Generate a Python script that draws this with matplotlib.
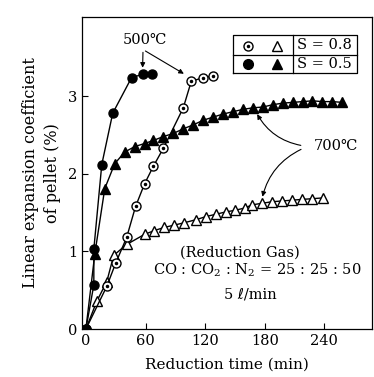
import matplotlib
matplotlib.use("Agg")
import matplotlib.pyplot as plt
from matplotlib.patches import FancyArrowPatch

plt.rcParams['font.family'] = ['DejaVu Serif', 'DejaVu Sans']
plt.rcParams['mathtext.fontset'] = 'dejavuserif'

# S=0.5, 500C (filled circles)
t_c05 = [0, 8, 8, 16, 27, 46, 57, 67]
v_c05 = [0, 0.57, 1.03, 2.12, 2.78, 3.24, 3.28, 3.29]

# S=0.8, 500C (open circles)
t_c08 = [0, 21, 30, 41, 50, 59, 68, 78, 98, 106, 118, 128]
v_c08 = [0, 0.55, 0.85, 1.18, 1.58, 1.87, 2.10, 2.33, 2.85, 3.19, 3.24, 3.26]

# S=0.5, 700C (filled triangles)
t_t05 = [0, 9, 19, 29, 39, 49, 59, 68, 78, 88, 98, 108, 118, 128, 138,
         148, 158, 168, 178, 188, 198, 208, 218, 228, 238, 248, 258]
v_t05 = [0, 0.97, 1.81, 2.13, 2.28, 2.35, 2.39, 2.43, 2.48, 2.52, 2.58, 2.63,
         2.69, 2.73, 2.77, 2.80, 2.83, 2.85, 2.86, 2.89, 2.91, 2.92, 2.93,
         2.94, 2.93, 2.93, 2.92]

# S=0.8, 700C (open triangles)
t_t08 = [0, 11, 21, 28, 41, 59, 69, 79, 89, 99, 111, 121, 131, 141, 150,
         160, 167, 177, 187, 197, 207, 217, 228, 239]
v_t08 = [0, 0.36, 0.61, 0.95, 1.09, 1.22, 1.27, 1.31, 1.34, 1.37, 1.41, 1.45,
         1.48, 1.51, 1.53, 1.56, 1.60, 1.62, 1.64, 1.65, 1.66, 1.67, 1.68, 1.69]

fig = plt.figure(figsize=(3.74, 3.77), dpi=100)
ax = fig.add_axes([0.219, 0.127, 0.776, 0.828])

lk = dict(color='black', lw=1.0)
ax.plot(t_t08, v_t08, marker='^', ms=7.5, mfc='white', mec='black', mew=1.0, **lk)
ax.plot(t_t05, v_t05, marker='^', ms=7.5, mfc='black', mec='black', **lk)
ax.plot(t_c08, v_c08, marker='o', ms=6.5, mfc='white', mec='black', mew=1.0, **lk)
ax.plot(t_c08[1:], v_c08[1:], ls='none', marker='o', ms=1.5, color='black')
ax.plot(t_c05, v_c05, marker='o', ms=6.5, mfc='black', mec='black', **lk)

ax.set_xlim(-4, 288)
ax.set_ylim(0, 4.02)
ax.set_xticks([0, 60, 120, 180, 240])
ax.set_yticks([0, 1, 2, 3])
ax.tick_params(direction='in', length=4, labelsize=10.5, width=0.8)
for s in ax.spines.values():
    s.set_linewidth(0.9)

ax.set_xlabel('Reduction time (min)', fontsize=11, labelpad=7)
ax.set_ylabel('Linear expansion coefficient\nof pellet (%)', fontsize=11.5,
              labelpad=5, linespacing=1.4)

# annotation 500C
ax.text(59, 3.72, '500℃', fontsize=10.5, ha='center', va='center')
akw = dict(arrowstyle='-|>', mutation_scale=7, color='black', lw=0.8)
ax.add_patch(FancyArrowPatch((57.5, 3.6), (57, 3.33), **akw))
ax.add_patch(FancyArrowPatch((57.5, 3.6), (101, 3.27), **akw))

# annotation 700C
ax.text(252, 2.36, '700℃', fontsize=10.5, ha='center', va='center')
ax.add_patch(FancyArrowPatch((219, 2.36), (171, 2.8),
                             connectionstyle='arc3,rad=-0.25', **akw))
ax.add_patch(FancyArrowPatch((219, 2.33), (177, 1.67),
                             connectionstyle='arc3,rad=0.25', **akw))

# gas conditions
ax.text(155, 0.99, '(Reduction Gas)', fontsize=10.5, ha='center', va='center')
ax.text(172, 0.76, r'CO : CO$_2$ : N$_2$ = 25 : 25 : 50', fontsize=10.5,
        ha='center', va='center')
ax.text(165, 0.44, '5 ℓ/min', fontsize=10.5, ha='center', va='center')

# legend table
x0, x1, xm = 0.519, 0.949, 0.726
y0, y1, ym = 0.821, 0.942, 0.878
tr = ax.transAxes
ax.plot([x0, x1, x1, x0, x0], [y0, y0, y1, y1, y0], color='black', lw=0.9,
        transform=tr, clip_on=False)
ax.plot([x0, x1], [ym, ym], color='black', lw=0.9, transform=tr)
ax.plot([xm, xm], [y0, y1], color='black', lw=0.9, transform=tr)
ax.plot([0.571], [0.907], marker='o', ms=6.5, mfc='white', mec='black', transform=tr)
ax.plot([0.571], [0.907], marker='o', ms=1.5, color='black', transform=tr)
ax.plot([0.671], [0.907], marker='^', ms=7, mfc='white', mec='black', transform=tr)
ax.plot([0.571], [0.849], marker='o', ms=7, color='black', transform=tr)
ax.plot([0.671], [0.849], marker='^', ms=7.5, color='black', transform=tr)
ax.text(0.837, 0.909, 'S = 0.8', fontsize=10.5, ha='center', va='center', transform=tr)
ax.text(0.837, 0.849, 'S = 0.5', fontsize=10.5, ha='center', va='center', transform=tr)

fig.savefig('out.png', dpi=100)
